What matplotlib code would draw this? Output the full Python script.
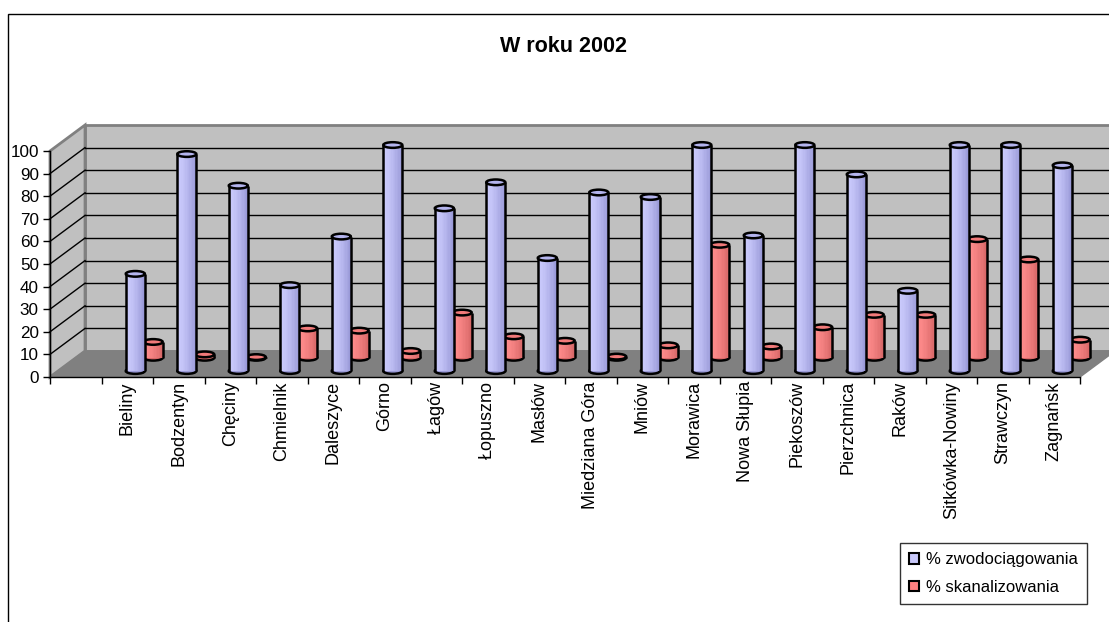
import numpy as np
import matplotlib
matplotlib.use("Agg")
import matplotlib.pyplot as plt
from matplotlib.patches import Ellipse, Polygon, Rectangle, Patch
from matplotlib.colors import to_rgb

plt.rcParams['font.family'] = ['Liberation Sans', 'DejaVu Sans']

# dane (pierwsza kategoria pusta, jak w oryginale)
gminy = ["", "Bieliny", "Bodzentyn", "Chęciny", "Chmielnik", "Daleszyce", "Górno",
         "Łagów", "Łopuszno", "Masłów", "Miedziana Góra", "Mniów", "Morawica",
         "Nowa Słupia", "Piekoszów", "Pierzchnica", "Raków", "Sitkówka-Nowiny",
         "Strawczyn", "Zagnańsk"]
zwodociagowania = [np.nan, 43, 96, 82, 38, 59.5, 100, 72, 83.5, 50, 79, 77, 100,
                   60, 100, 87, 35.5, 100, 100, 91]
skanalizowania = [np.nan, 7, 1.5, 0.3, 13, 12, 3, 20, 9.5, 7.5, 0.5, 5.5, 50,
                  5, 13.5, 19, 19, 52.5, 43.5, 8]
serie = ["% zwodociągowania", "% skanalizowania"]

n = len(gminy)
DX, DY = 0.68, 11.5      # glebokosc wykresu 3D (w jednostkach danych)
W, EH = 0.37, 2.5        # szerokosc walca i wysokosc elipsy

fig = plt.figure(figsize=(11.09, 6.22), dpi=100)
ax = fig.add_axes([50 / 1109, 245 / 622, 1030 / 1109, 226 / 622])
ax.set_xlim(0, n)
ax.set_ylim(0, 100)
ax.patch.set_visible(False)

# sciany i podloga
wall = '#c0c0c0'
ax.add_patch(Polygon([(DX, DY), (n + DX, DY), (n + DX, 100 + DY), (DX, 100 + DY)],
                     closed=True, fc=wall, ec='#808080', lw=2, clip_on=False, zorder=0.1))
ax.add_patch(Polygon([(0, 0), (DX, DY), (DX, 100 + DY), (0, 100)],
                     closed=True, fc=wall, ec='#808080', lw=2, clip_on=False, zorder=0.1))
ax.add_patch(Polygon([(0, 0), (n, 0), (n + DX, DY), (DX, DY)],
                     closed=True, fc='#808080', ec='#808080', lw=1, clip_on=False, zorder=0.2))
for v in range(10, 100, 10):
    ax.plot([DX, n + DX], [v + DY, v + DY], color='black', lw=1, clip_on=False, zorder=0.3)
    ax.plot([0, DX], [v, v + DY], color='black', lw=1, clip_on=False, zorder=0.3)


def walec(x, base, h, light, dark, top, z):
    light, dark = np.array(to_rgb(light)), np.array(to_rgb(dark))
    ax.add_patch(Ellipse((x, base), W, EH, fc=dark, ec='black', lw=1.8,
                         clip_on=False, zorder=z))
    k = 14
    xs = np.linspace(x - W / 2, x + W / 2, k + 1)
    for i in range(k):
        t = i / (k - 1)
        c = light * (1 - t ** 1.5) + dark * t ** 1.5
        ax.bar((xs[i] + xs[i + 1]) / 2, h, width=W / k * 1.05, bottom=base,
               color=c, lw=0, clip_on=False, zorder=z)
    ax.plot([x - W / 2, x - W / 2], [base, base + h], color='black', lw=1.8,
            clip_on=False, zorder=z, solid_capstyle='butt')
    ax.plot([x + W / 2, x + W / 2], [base, base + h], color='black', lw=1.8,
            clip_on=False, zorder=z, solid_capstyle='butt')
    ax.add_patch(Ellipse((x, base + h), W, EH, fc=top, ec='black', lw=1.8,
                         clip_on=False, zorder=z))


# seria tylna (czerwona), potem przednia (niebieska)
for i in range(n):
    if not np.isnan(skanalizowania[i]):
        walec(i + 0.5 + 0.74 * DX, 0.74 * DY, skanalizowania[i],
              '#ff8c8c', '#d86868', '#f27a7a', 3)
for i in range(n):
    if not np.isnan(zwodociagowania[i]):
        walec(i + 0.5 + 0.23 * DX, 0.23 * DY, zwodociagowania[i],
              '#cacafc', '#9a9ad8', '#b4b4ee', 4)

# osie
for s in ['top', 'right']:
    ax.spines[s].set_visible(False)
for s in ['left', 'bottom']:
    ax.spines[s].set_color('black')
    ax.spines[s].set_linewidth(1)
    ax.spines[s].set_zorder(5)
ax.set_yticks(range(0, 101, 10))
ax.tick_params(axis='y', direction='out', length=5, width=1, labelsize=12.3, pad=3)
ax.set_xticks(range(0, n + 1))
ax.set_xticklabels([])
ax.set_xticks(np.arange(n) + 0.5, minor=True)
ax.set_xticklabels(gminy, minor=True, rotation=90, fontsize=13, va='top')
ax.tick_params(axis='x', which='major', direction='out', length=5, width=1)
ax.tick_params(axis='x', which='minor', length=0, pad=3)

# ramka obszaru wykresu (przycieta)
fig.patches.append(Rectangle((7.5 / 1109, -0.05), 1.2, 1 - 14 / 622 + 0.05,
                             transform=fig.transFigure, fill=False, ec='black', lw=1))

fig.text(564 / 1109, 1 - 47 / 622, "W roku 2002", ha='center', va='center',
         fontsize=15.5, fontweight='bold')

uchwyty = [Patch(fc='#c8c8fa', ec='black', lw=1.5), Patch(fc='#ff8080', ec='black', lw=1.5)]
leg = fig.legend(uchwyty, serie, loc='upper right',
                 bbox_to_anchor=(1087 / 1109, 1 - 543 / 622), fontsize=12,
                 frameon=True, fancybox=False, shadow=False, handlelength=0.6,
                 handleheight=0.6, handletextpad=0.4, labelspacing=0.75,
                 borderpad=0.55, borderaxespad=0)
leg.get_frame().set_edgecolor('black')
leg.get_frame().set_linewidth(1)

fig.savefig("out.png", dpi=100)
